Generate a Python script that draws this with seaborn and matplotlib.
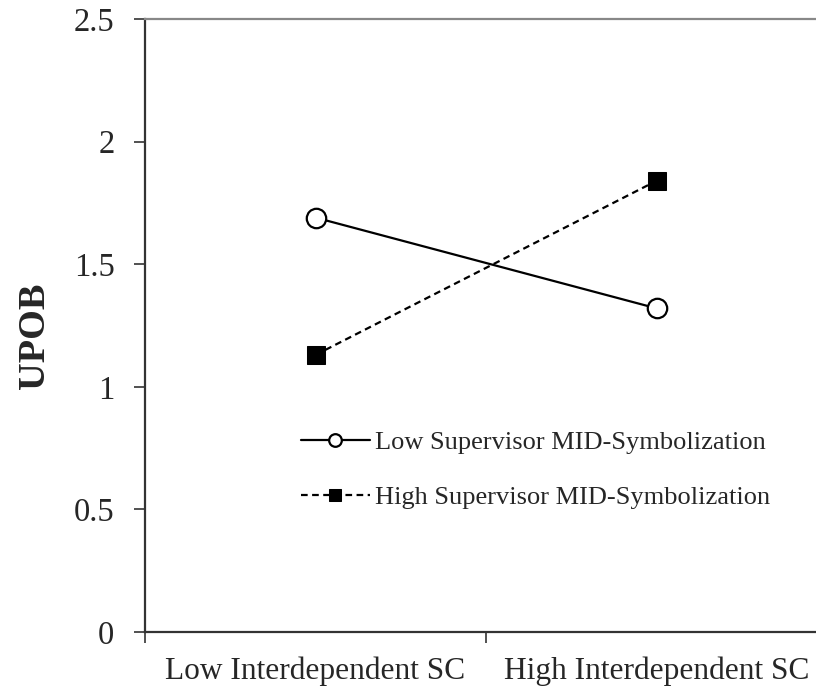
import seaborn as sns
from matplotlib import pyplot as plt
import pandas as pd

# values
conditions = ["Low Interdependent SC", "High Interdependent SC"]
low_mid = [1.69, 1.32]
high_mid = [1.13, 1.84]
series_names = ["Low Supervisor MID-Symbolization", "High Supervisor MID-Symbolization"]
y_ticks = [0, 0.5, 1, 1.5, 2, 2.5]

sns.set_style("white")
plt.rcParams["font.family"] = ["Liberation Serif", "DejaVu Serif"]

data = pd.DataFrame({
    "pos": [0.5, 1.5, 0.5, 1.5],
    "UPOB": low_mid + high_mid,
    "group": [series_names[0]] * 2 + [series_names[1]] * 2,
})

fig = plt.figure(figsize=(8.16, 6.91), dpi=100)
ax = fig.add_axes([145 / 816, 59 / 691, 682 / 816, 613 / 691])

sns.lineplot(data=data[data["group"] == series_names[0]], x="pos", y="UPOB", ax=ax,
             color="black", linewidth=1.6, marker="o", markersize=14,
             markerfacecolor="white", markeredgecolor="black", markeredgewidth=1.6,
             label=series_names[0])
sns.lineplot(data=data[data["group"] == series_names[1]], x="pos", y="UPOB", ax=ax,
             color="black", linewidth=1.6, linestyle=(0, (3, 2)), marker="s", markersize=13,
             markerfacecolor="black", markeredgecolor="black",
             label=series_names[1])

ax.set_xlim(0, 2)
ax.set_ylim(0, 2.5)
ax.set_yticks(y_ticks)
ax.set_yticklabels(["0", "0.5", "1", "1.5", "2", "2.5"])
ax.set_xticks([0, 1, 2])
ax.set_xticklabels([])
ax.set_xticks([0.5, 1.5], minor=True)
ax.set_xticklabels(conditions, minor=True)
ax.tick_params(axis="x", which="major", bottom=True, direction="out", length=8, width=1.2, color="#333333")
ax.tick_params(axis="x", which="minor", bottom=True, length=0, pad=18, labelsize=22.6)
ax.tick_params(axis="y", left=True, direction="out", length=8, width=1.2, color="#333333", pad=14, labelsize=23.5)

ax.set_xlabel("")
ax.set_ylabel("UPOB", fontsize=27.5, fontweight="bold")
ax.yaxis.set_label_coords(-0.137, 0.483)

for side in ["left", "bottom"]:
    ax.spines[side].set_color("#333333")
    ax.spines[side].set_linewidth(1.6)
ax.spines["top"].set_color("#888888")
ax.spines["top"].set_linewidth(1.6)
ax.spines["right"].set_visible(False)

leg = ax.legend(loc="upper left", bbox_to_anchor=(0.194, 0.367), frameon=False,
                fontsize=19, handlelength=2.6, handletextpad=0.2, labelspacing=1.2,
                markerscale=0.65)

fig.savefig("out.png", dpi=100)
